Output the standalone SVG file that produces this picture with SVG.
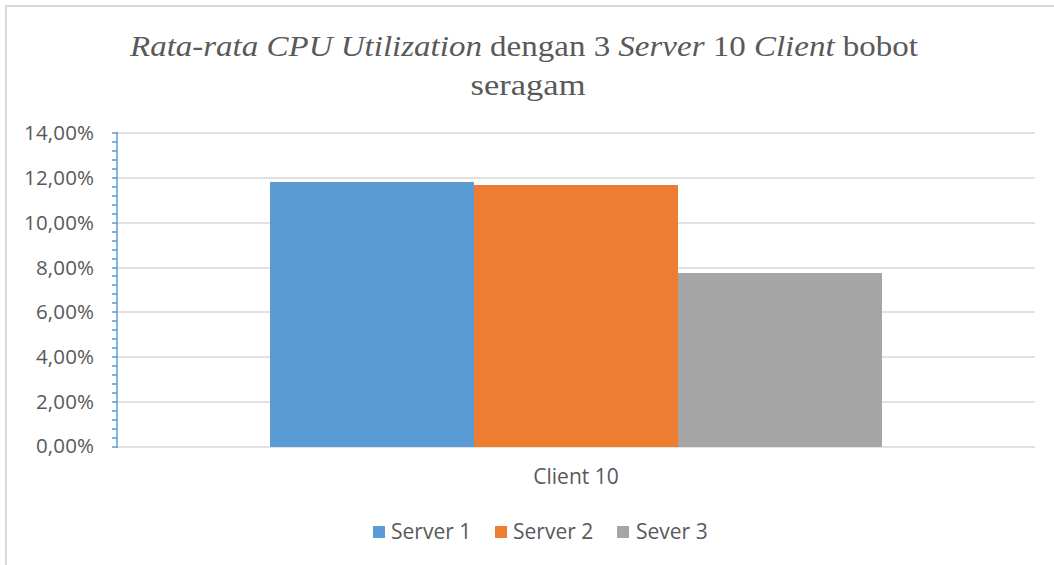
<svg xmlns="http://www.w3.org/2000/svg" width="1054" height="565" viewBox="0 0 1054 565">
  <style>
    .grid { stroke: #d9d9d9; stroke-width: 1.5; fill: none; }
    .axis { stroke: #5b9bd5; stroke-width: 1.5; fill: none; }
    .lbl { font-family: "Open Sans", "Liberation Sans", sans-serif; font-size: 20.5px; fill: #595959; }
    .cat { font-size: 21px; }
    .title { font-family: "Liberation Serif", serif; font-size: 30px; fill: #595959; }
  </style>
  <!-- chart area frame -->
  <rect x="0" y="0" width="1054" height="565" fill="#ffffff"/>
  <path d="M6,570 L6,6 L1060,6" stroke="#d9d9d9" stroke-width="2" fill="none"/>

  <!-- title -->
  <g id="title">
    <text class="title" x="130" y="56" textLength="788" lengthAdjust="spacingAndGlyphs"><tspan font-style="italic">Rata-rata CPU Utilization</tspan> dengan 3 <tspan font-style="italic">Server</tspan> 10 <tspan font-style="italic">Client</tspan> bobot</text>
    <text class="title" x="528" y="95" text-anchor="middle" textLength="115" lengthAdjust="spacingAndGlyphs">seragam</text>
  </g>

  <!-- horizontal gridlines: 2% steps -->
  <g id="gridlines">
    <line class="grid" x1="117" y1="133" x2="1035" y2="133"/>
    <line class="grid" x1="117" y1="178" x2="1035" y2="178"/>
    <line class="grid" x1="117" y1="223" x2="1035" y2="223"/>
    <line class="grid" x1="117" y1="268" x2="1035" y2="268"/>
    <line class="grid" x1="117" y1="312" x2="1035" y2="312"/>
    <line class="grid" x1="117" y1="357" x2="1035" y2="357"/>
    <line class="grid" x1="117" y1="402" x2="1035" y2="402"/>
    <line class="grid" x1="117" y1="447" x2="1035" y2="447"/>
  </g>

  <!-- series bars -->
  <g id="bars">
    <rect id="bar-server1" x="270" y="182" width="204" height="265" fill="#5b9bd5"/>
    <rect id="bar-server2" x="474" y="185" width="204" height="262" fill="#ed7d31"/>
    <rect id="bar-server3" x="678" y="273" width="204" height="174" fill="#a5a5a5"/>
  </g>

  <!-- value axis with major/minor ticks -->
  <g id="value-axis">
    <line class="axis" x1="117" y1="132" x2="117" y2="448"/>
    <path class="axis" d="M112,133h5M112,142h5M112,151h5M112,160h5M112,169h5M112,178h5M112,187h5M112,196h5M112,205h5M112,214h5M112,223h5M112,232h5M112,241h5M112,250h5M112,259h5M112,268h5M112,276h5M112,285h5M112,294h5M112,303h5M112,312h5M112,321h5M112,330h5M112,339h5M112,348h5M112,357h5M112,366h5M112,375h5M112,384h5M112,393h5M112,402h5M112,411h5M112,420h5M112,429h5M112,438h5M112,447h5"/>
    <g class="lbl">
      <text x="24" y="140" textLength="70">14,00%</text>
      <text x="24" y="185" textLength="70">12,00%</text>
      <text x="24" y="230" textLength="70">10,00%</text>
      <text x="36" y="275" textLength="58">8,00%</text>
      <text x="36" y="319" textLength="58">6,00%</text>
      <text x="36" y="364" textLength="58">4,00%</text>
      <text x="36" y="409" textLength="58">2,00%</text>
      <text x="36" y="453" textLength="58">0,00%</text>
    </g>
  </g>

  <!-- category axis label -->
  <g id="category-axis">
    <text class="lbl cat" x="576" y="484" text-anchor="middle">Client 10</text>
  </g>

  <!-- legend -->
  <g id="legend">
    <rect x="373" y="526" width="12" height="12" fill="#5b9bd5"/>
    <text class="lbl cat" x="391" y="539">Server 1</text>
    <rect x="495" y="526" width="12" height="12" fill="#ed7d31"/>
    <text class="lbl cat" x="513" y="539">Server 2</text>
    <rect x="617" y="526" width="12" height="12" fill="#a5a5a5"/>
    <text class="lbl cat" x="636" y="539">Sever 3</text>
  </g>
</svg>
